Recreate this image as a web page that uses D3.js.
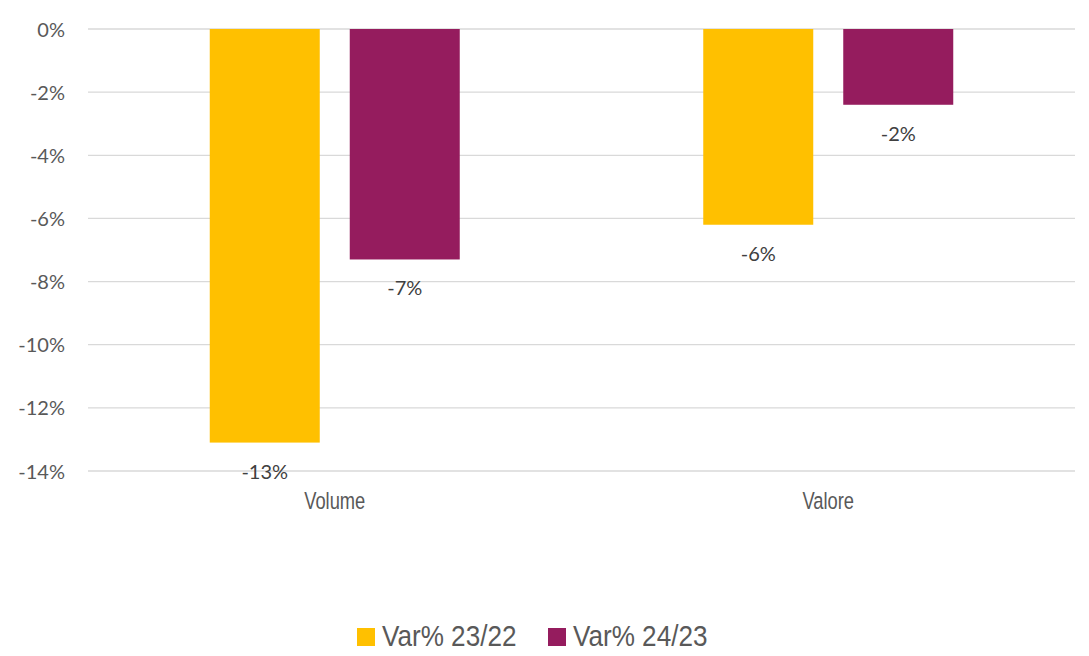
<!DOCTYPE html>
<html>
<head>
<meta charset="utf-8">
<script src="https://cdn.jsdelivr.net/npm/d3@7"></script>
<style>
  html, body { margin: 0; padding: 0; background: #fff; }
  svg { display: block; }
</style>
</head>
<body>
<svg id="chart" width="1089" height="656"></svg>
<script>
const categories = ["Volume", "Valore"];
const seriesNames = ["Var% 23/22", "Var% 24/23"];
const seriesColors = ["#FFC000", "#951C5E"];
const var2322 = [-13.1, -6.2];
const var2423 = [-7.3, -2.4];
const dataLabels2322 = ["-13%", "-6%"];
const dataLabels2423 = ["-7%", "-2%"];
const yTicks = [0, -2, -4, -6, -8, -10, -12, -14];

(function () {
const svg = d3.select("#chart");
const plotLeft = 88, plotRight = 1075, plotTop = 29, plotBottom = 471;

const y = d3.scaleLinear().domain([-14, 0]).range([plotBottom, plotTop]);
const x0 = d3.scaleBand().domain(categories).range([plotLeft, plotRight]).padding(0);

const tickFont = "Lato, 'Open Sans', sans-serif";
const narrowFont = "'Liberation Sans', Arial, sans-serif";
const textColor = "#595959";

// gridlines
svg.append("g")
  .selectAll("line").data(yTicks).join("line")
  .attr("x1", plotLeft).attr("x2", plotRight)
  .attr("y1", d => y(d)).attr("y2", d => y(d))
  .attr("stroke", "#d9d9d9").attr("stroke-width", 1.3);

// y axis labels
const yAxis = d3.axisLeft(y).tickValues(yTicks).tickSize(0).tickPadding(0)
  .tickFormat(d => d + "%");
const ya = svg.append("g").attr("transform", `translate(65,0)`).call(yAxis);
ya.select(".domain").remove();
ya.selectAll("text").attr("font-family", tickFont).attr("font-size", 20)
  .attr("fill", textColor).attr("dy", "0.35em");

// bars
const series = [
  { name: seriesNames[0], color: seriesColors[0], values: var2322, labels: dataLabels2322 },
  { name: seriesNames[1], color: seriesColors[1], values: var2423, labels: dataLabels2423 }
];

categories.forEach((cat, ci) => {
  const c = x0(cat) + x0.bandwidth() / 2;
  const x1 = d3.scaleBand().domain(seriesNames).range([c - 125, c + 125]).paddingInner(30 / 140).paddingOuter(0);
  series.forEach(s => {
    const v = s.values[ci];
    svg.append("rect")
      .attr("x", x1(s.name)).attr("width", x1.bandwidth())
      .attr("y", y(0)).attr("height", y(v) - y(0))
      .attr("fill", s.color);
    svg.append("text")
      .attr("x", x1(s.name) + x1.bandwidth() / 2)
      .attr("y", y(v) + 29).attr("dy", "0.35em")
      .attr("text-anchor", "middle")
      .attr("font-family", tickFont).attr("font-size", 20)
      .attr("fill", "#404040")
      .text(s.labels[ci]);
  });
});

// category labels (condensed)
const xAxis = d3.axisBottom(x0).tickSize(0).tickPadding(0);
const xa = svg.append("g").attr("transform", `translate(0,501)`).call(xAxis);
xa.select(".domain").remove();
xa.selectAll("text").attr("font-family", narrowFont).attr("font-size", 23.5)
  .attr("fill", textColor).attr("dy", "0.35em")
  .attr("transform", "scale(0.78,1)");

// legend
const legendX = [357, 548];
series.forEach((s, i) => {
  svg.append("rect").attr("x", legendX[i]).attr("y", 628).attr("width", 18).attr("height", 18).attr("fill", s.color);
  svg.append("text")
    .attr("transform", `translate(${legendX[i] + 25},646) scale(0.87,1)`)
    .attr("font-family", narrowFont).attr("font-size", 30)
    .attr("fill", textColor).text(s.name);
});
})();
</script>
</body>
</html>
